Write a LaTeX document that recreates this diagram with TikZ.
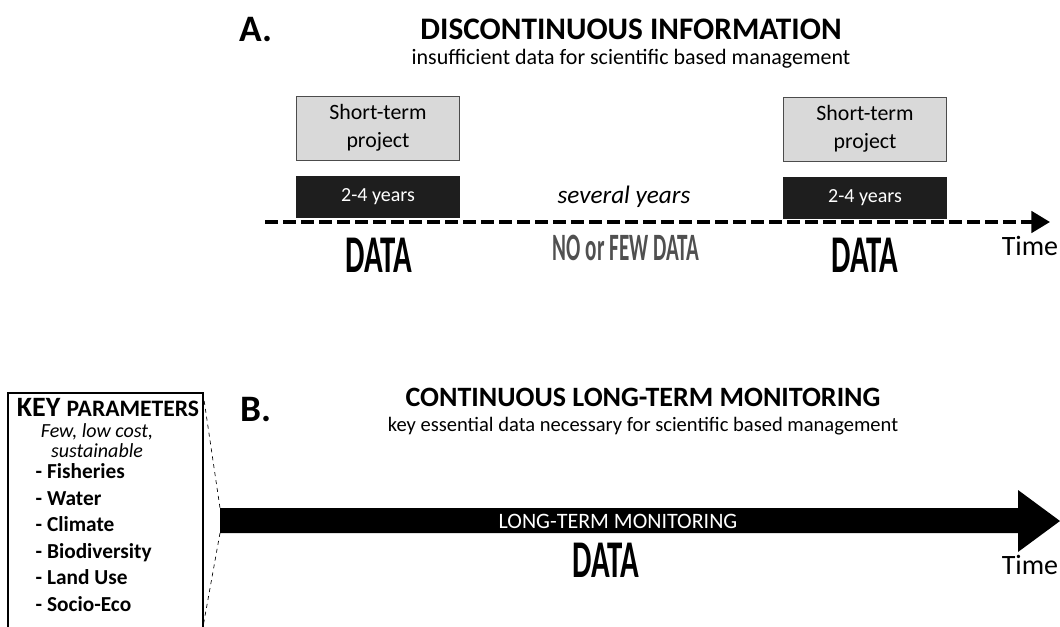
\documentclass[tikz,border=0pt]{standalone}
\usepackage{fontspec}
\setmainfont{Carlito}
\usepackage{tikz}
\usetikzlibrary{arrows.meta,positioning,calc}
\definecolor{boxgray}{RGB}{217,217,217}
\definecolor{boxblack}{RGB}{30,30,30}
\definecolor{nodata}{RGB}{80,80,80}
\newcommand{\heavy}[3]{\scalebox{#1}[#2]{\bfseries #3}}

\begin{document}
\begin{tikzpicture}[
    x=0.75pt, y=-0.75pt,
    letter/.style={font=\fontsize{28}{32}\selectfont\bfseries},
    title/.style={font=\fontsize{21}{25}\selectfont\bfseries},
    subtitle/.style={font=\fontsize{15.4}{18}\selectfont},
    project/.style={rectangle, draw=black!70, fill=boxgray, align=center, minimum width=122pt, minimum height=48pt, font=\fontsize{16.4}{19}\selectfont, inner sep=0pt},
    period/.style={rectangle, fill=boxblack, text=white, minimum width=123pt, minimum height=31pt, font=\fontsize{15}{17}\selectfont, inner sep=0pt},
    datalabel/.style={font=\fontsize{28}{30}\selectfont},
    timelabel/.style={font=\fontsize{21}{24}\selectfont},
    param/.style={font=\fontsize{16}{18}\selectfont\bfseries, anchor=west, text height=1.5ex, text depth=0.2ex, inner ysep=1pt},
    dashedline/.style={line width=3pt, dash pattern=on 9.5pt off 4pt, -{Triangle[length=14pt, width=16pt]}}
]
    \useasboundingbox (0,0) rectangle (1060,627);

    % A
    \node[letter] (la) at (256,30) {A.};
    \node[title, font=\fontsize{23.5}{27}\selectfont\bfseries] (ta) at (631,29) {DISCONTINUOUS INFORMATION};
    \node[subtitle, font=\fontsize{16.5}{19}\selectfont] (sa) at (631,59) {insufficient data for scientific based management};

    \node[project] (proj1) at (378,128) {Short-term\\[2pt]project};
    \node[project] (proj2) at (865,129) {Short-term\\[2pt]project};
    \node[period] (per1) at (378,197) {2-4 years};
    \node[period] (per2) at (865,198) {2-4 years};
    \node[font=\fontsize{18.9}{22}\selectfont\itshape] (sev) at (624,197) {several years};

    \coordinate (astart) at (265,222);
    \coordinate (aend) at (1050,222);
    \draw[dashedline] (astart) -- (aend);

    \node[datalabel] (data1) at (379,255) {\heavy{0.825}{1.42}{DATA}};
    \node[datalabel, text=nodata, font=\fontsize{22}{24}\selectfont] (nodata) at (626,248) {\heavy{0.72}{1.32}{NO or FEW DATA}};
    \node[datalabel] (data2) at (865,255) {\heavy{0.825}{1.42}{DATA}};
    \node[timelabel] (time1) at (1030,246) {Time};

    % B
    \node[letter] (lb) at (256,410) {B.};
    \node[title] (tb) at (643,397) {CONTINUOUS LONG-TERM MONITORING};
    \node[subtitle] (sb) at (643,426) {key essential data necessary for scientific based management};

    \coordinate (k1) at (8,627);
    \coordinate (k2) at (8,393);
    \coordinate (k3) at (203,393);
    \coordinate (k4) at (203,627);
    \draw[line width=0.9pt] (k1) -- (k2) -- (k3) -- (k4);

    \node[font=\bfseries, inner xsep=0pt] (keyp) at (108,408) {\fontsize{21}{24}\selectfont KEY \fontsize{17.7}{20}\selectfont PARAMETERS};
    \node[font=\fontsize{15}{15}\selectfont\itshape, align=center, inner sep=1pt] (few) at (97,441) {Few, low cost,\\sustainable};
    \node[param] (p1) at (31,474) {- Fisheries};
    \node[param] (p2) at (31,501) {- Water};
    \node[param] (p3) at (31,527) {- Climate};
    \node[param] (p4) at (31,554) {- Biodiversity};
    \node[param] (p5) at (31,580) {- Land Use};
    \node[param] (p6) at (31,607) {- Socio-Eco};

    \coordinate (b1) at (220,508);
    \coordinate (b2) at (1018,508);
    \coordinate (b3) at (1018,490);
    \coordinate (b4) at (1060,521);
    \coordinate (b5) at (1018,552);
    \coordinate (b6) at (1018,533);
    \coordinate (b7) at (220,533);
    \fill[black] (b1) -- (b2) -- (b3) -- (b4) -- (b5) -- (b6) -- (b7) -- cycle;
    \draw[dashed, line width=0.5pt] (k3) -- (b1);
    \draw[dashed, line width=0.5pt] (b7) -- (k4);

    \node[text=white, font=\fontsize{16.5}{19}\selectfont] (ltm) at (618,521) {LONG-TERM MONITORING};
    \node[datalabel] (data3) at (606,560) {\heavy{0.825}{1.42}{DATA}};
    \node[timelabel] (time2) at (1030,565) {Time};
\end{tikzpicture}
\end{document}
